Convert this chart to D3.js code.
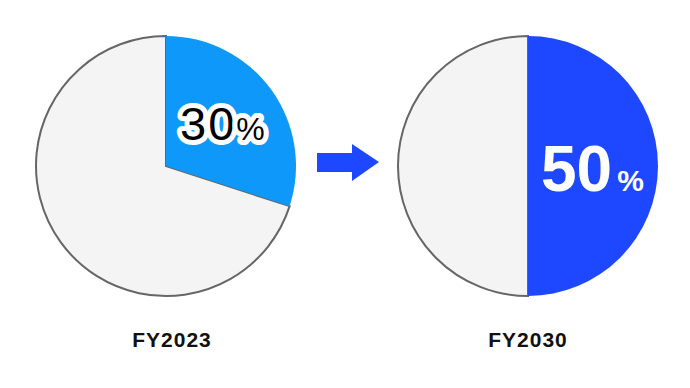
<!DOCTYPE html>
<html>
<head>
<meta charset="utf-8">
<script src="https://cdn.jsdelivr.net/npm/d3@7"></script>
<style>
  body { margin: 0; background: #fff; }
  text { font-family: "Liberation Sans", Arial, sans-serif; }
</style>
</head>
<body>
<div id="chart"></div>
<script>
// data
var years = ["FY2023", "FY2030"];
var shares = [30, 50];
var shareColors = ["#0E99FA", "#1E48FF"];

var width = 690, height = 388;
var radius = 130;

var svg = d3.select("#chart")
    .append("svg")
    .attr("width", width)
    .attr("height", height);

var x = d3.scalePoint()
    .domain(years)
    .range([166, 528]);

var pie = d3.pie().sort(null).value(function(d) { return d.v; });
var arc = d3.arc().innerRadius(0).outerRadius(radius);

years.forEach(function(yr, i) {
    var cx = x(yr), cy = 166;
    var g = svg.append("g").attr("transform", "translate(" + cx + "," + cy + ")");
    var arcs = pie([{v: shares[i], c: shareColors[i]}, {v: 100 - shares[i], c: "#F4F4F4"}]);

    // rest slice, with outline
    g.append("path")
        .attr("d", arc(arcs[1]))
        .style("fill", "#F4F4F4")
        .style("stroke", "#666")
        .style("stroke-width", 2);

    // share slice
    g.append("path")
        .attr("d", arc(arcs[0]))
        .style("fill", shareColors[i]);

    // year label
    svg.append("text")
        .attr("x", cx + (i == 0 ? 6 : 0))
        .attr("y", 347)
        .attr("text-anchor", "middle")
        .style("font-size", "21px")
        .style("letter-spacing", "1px")
        .style("font-weight", "bold")
        .style("fill", "#111")
        .text(yr);
});

// 30% label, black with white outline
var t1 = svg.append("text")
    .attr("x", 180)
    .attr("y", 140)
    .style("fill", "#000")
    .style("stroke", "#fff")
    .style("stroke-width", 10)
    .style("stroke-linejoin", "round")
    .style("paint-order", "stroke");
t1.append("tspan").style("font-size", "47px").style("letter-spacing", "2px").text(shares[0]);
t1.append("tspan").attr("dx", 0).style("font-size", "32px").text("%");

// 50% label, white bold
var t2 = svg.append("text")
    .attr("x", 541)
    .attr("y", 191)
    .style("fill", "#fff")
    .style("font-weight", "bold");
t2.append("tspan").style("font-size", "64px").text(shares[1]);
t2.append("tspan").attr("dx", 5).style("font-size", "30px").text("%");

// arrow
var arrow = d3.path();
arrow.moveTo(317, 153);
arrow.lineTo(352, 153);
arrow.lineTo(352, 144);
arrow.lineTo(379, 162);
arrow.lineTo(352, 181);
arrow.lineTo(352, 172);
arrow.lineTo(317, 172);
arrow.closePath();
svg.append("path")
    .attr("d", arrow.toString())
    .style("fill", "#1E48FF");
</script>
</body>
</html>
